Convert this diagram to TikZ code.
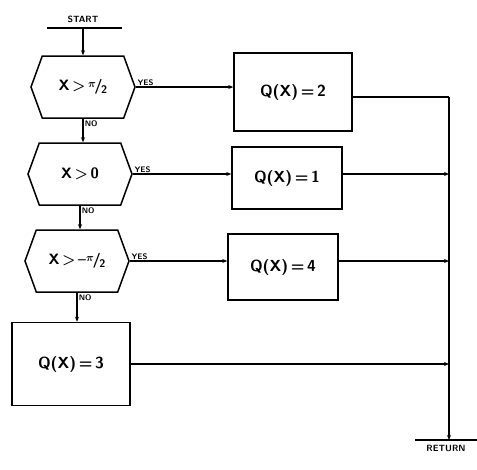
\documentclass[tikz,border=0pt]{standalone}
\usetikzlibrary{shapes.symbols,arrows.meta}
\begin{document}
\begin{tikzpicture}[x=1pt,y=-1pt,
  line width=1.5pt,
  arr/.style={-{Stealth[length=5pt,width=4pt]}},
  hexbox/.style={signal, signal to=east and west, signal pointer angle=140, draw,
    minimum width=104pt, minimum height=62pt, inner sep=0pt, font=\sffamily\bfseries\fontsize{15}{15}\selectfont},
  qbox/.style={rectangle, draw, inner sep=0pt, font=\sffamily\bfseries\fontsize{16}{16}\selectfont},
  lbl/.style={font=\sffamily\bfseries\fontsize{8}{8}\selectfont, inner sep=1pt},
  endlbl/.style={font=\sffamily\bfseries\fontsize{9}{9}\selectfont, inner sep=1pt}]
\newcommand{\halfpi}{\raisebox{3.5pt}{\fontsize{11}{11}\selectfont\boldmath$\pi$}\kern-1.5pt/\kern-1.5pt\raisebox{-2.5pt}{\fontsize{11}{11}\selectfont 2}}
\useasboundingbox (0,0) rectangle (477,469);
% start
\node[endlbl] (start) at (83,19) {START};
\coordinate (startpt) at (83,28);
\draw[line width=1.2pt] (47,28) -- (122,28);
% decisions
\node[hexbox] (h1) at (83,87) {X\,>\,\halfpi};
\node[hexbox] (h2) at (80,174) {X\,>\,0};
\node[hexbox] (h3) at (77,261) {X\,>\,\textendash\halfpi};
% boxes
\node[qbox, minimum width=118pt, minimum height=78pt] (b2) at (293,92) {Q(X)\,=\,2};
\node[qbox, minimum width=110pt, minimum height=62pt] (b1) at (287,178) {Q(X)\,=\,1};
\node[qbox, minimum width=110pt, minimum height=66pt] (b4) at (283,267) {Q(X)\,=\,4};
\node[qbox, minimum width=118pt, minimum height=83pt] (b3) at (71,364) {Q(X)\,=\,3};
% labels
\node[lbl, anchor=south west] (y1) at (h1.east) {YES};
\node[lbl, anchor=south west] (y2) at (h2.east) {YES};
\node[lbl, anchor=south west] (y3) at (h3.east) {YES};
\node[lbl, anchor=north west] (n1) at (h1.south) {NO};
\node[lbl, anchor=north west] (n2) at (h2.south) {NO};
\node[lbl, anchor=north west] (n3) at (h3.south) {NO};
% return
\coordinate (vtop) at (449,97);
\coordinate (ret) at (449,440);
\draw[line width=1.2pt] (415,440) -- (477,440);
\node[endlbl, anchor=north] (rtn) at (446,443) {RETURN};
% connectors
\draw[arr] (startpt) -- (h1.north);
\draw[arr] (h1.south) -- (h1.south |- h2.north);
\draw[arr] (h2.south) -- (h2.south |- h3.north);
\draw[arr] (h3.south) -- (h3.south |- b3.north);
\draw[arr] (h1.east) -- (h1.east -| b2.west);
\draw[arr] (h2.east) -- (h2.east -| b1.west);
\draw[arr] (h3.east) -- (h3.east -| b4.west);
\draw (b2.east |- vtop) -- (vtop);
\draw[arr] (vtop) -- (ret);
\draw[arr] (b1.east |- h2.east) -- (h2.east -| vtop);
\draw[arr] (b4.east |- h3.east) -- (h3.east -| vtop);
\draw[arr] (b3.east) -- (b3.east -| vtop);
\end{tikzpicture}
\end{document}
